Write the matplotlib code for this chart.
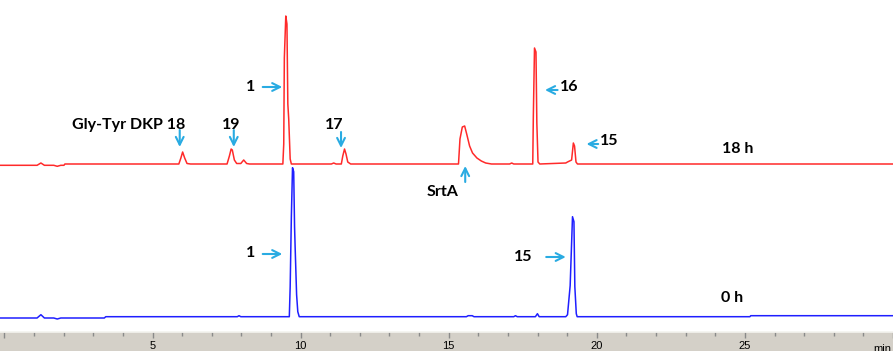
import matplotlib
matplotlib.use("Agg")
import matplotlib.pyplot as plt
import matplotlib.transforms as mtrans

# red trace (18 h), time in min / signal
red_t = [-0.3, 1.102, 1.231, 1.349, 1.665, 1.783, 1.902, 2.010, 2.040,
         5.888, 5.957, 6.016, 6.085, 6.164, 6.283,
         7.516, 7.595, 7.654, 7.693, 7.763, 7.841, 7.980, 8.078, 8.177, 8.276,
         9.400, 9.430, 9.450, 9.499, 9.538, 9.568, 9.598, 9.647, 9.687,
         11.039, 11.117, 11.196, 11.374, 11.423, 11.482, 11.532, 11.591, 11.690,
         15.330, 15.380, 15.459, 15.538, 15.607, 15.705, 15.804, 15.952, 16.100, 16.248, 16.445,
         17.057, 17.126, 17.195,
         17.837, 17.857, 17.896, 17.946, 17.975, 18.015, 18.074,
         18.952, 19.011, 19.149, 19.208, 19.248, 19.297, 19.347, 30.0]
red_y = [-1.3, -1.3, 1.0, -1.3, -1.3, -2.3, -1.3, -1.3, 0,
         0, 6, 12, 6, 0.5, 0,
         0, 8, 15, 14, 4, 0.5, 0.5, 4, 0.5, 0,
         0, 20, 106, 148, 140, 60, 45, 5, 0,
         0, 1, 0, 0, 8, 15, 10, 2, 0,
         0, 25, 37, 38, 30, 18, 11, 6, 3, 1, 0,
         0, 1, 0,
         0, 48, 116, 112, 41, 2, 0,
         1, 2, 4, 21, 18, 2, 0, 0]

# blue trace (0 h)
blue_t = [-0.3, 1.102, 1.231, 1.349, 1.665, 1.783, 1.902, 3.372, 3.421,
          7.861, 7.920, 7.980,
          9.618, 9.647, 9.687, 9.726, 9.766, 9.795, 9.815, 9.864, 9.904, 9.953,
          15.597, 15.656, 15.794, 15.853,
          17.195, 17.254, 17.314,
          17.926, 17.995, 18.054,
          18.952, 19.011, 19.100, 19.179, 19.228, 19.258, 19.307, 19.337,
          25.168, 25.198, 30.0]
blue_y = [-1.3, -1.3, 2.0, -1.3, -1.3, -2.3, -1.3, -1.3, 0,
          0, 1, 0,
          0, 30, 100, 149, 145, 90, 69, 22, 5, 0,
          0, 1, 1, 0,
          0, 1, 0,
          0, 3, 0,
          0, 2, 31, 100, 95, 30, 3, 0,
          0, 1, 1]

red_off = 168
blue_off = 15.3

ruler_ticks = [5, 10, 15, 20, 25]

fig = plt.figure(figsize=(8.93, 3.51), dpi=100)
ax = fig.add_axes([0, 19 / 351, 1, 332 / 351])
ax.plot(red_t, [v + red_off for v in red_y], color="#ff2a2a", lw=1.1)
ax.plot(blue_t, [v + blue_off for v in blue_y], color="#1f1fff", lw=1.1)
ax.set_xlim(-0.15, 29.52)
ax.set_ylim(0, 332)
ax.axis("off")

fnt = dict(family=["Lato", "DejaVu Sans"], weight="bold", size=11.5, color="black",
           ha="center", va="center")
arr = dict(arrowstyle="->", color="#29abe2", lw=1.5, mutation_scale=14,
           shrinkA=0, shrinkB=0)

def arrow(x0, y0, x1, y1):
  ax.annotate("", xy=(x1, y1), xytext=(x0, y0), arrowprops=arr)

# labels on 18 h trace
ax.text(4.201, 207, "Gly-Tyr DKP 18", **fnt)
arrow(5.918, 202, 5.918, 185)
ax.text(7.644, 207, "19", **fnt)
arrow(7.743, 202, 7.743, 185)
ax.text(8.325, 245, "1", **fnt)
arrow(8.720, 245, 9.381, 245)
ax.text(11.147, 207, "17", **fnt)
arrow(11.364, 200, 11.364, 184)
arrow(15.557, 150, 15.557, 166)
ax.text(14.788, 140.5, "SrtA", **fnt)
ax.text(19.070, 245, "16", **fnt)
arrow(18.676, 242, 18.251, 242)
ax.text(20.432, 191, "15", **fnt)
arrow(20.047, 188, 19.652, 188)
ax.text(24.764, 183, "18 h", **fnt)

# labels on 0 h trace
ax.text(8.325, 79, "1", **fnt)
arrow(8.720, 78, 9.381, 78)
ax.text(17.511, 75, "15", **fnt)
arrow(18.291, 75, 18.952, 75)
ax.text(24.566, 34, "0 h", **fnt)

# time ruler at the bottom
axr = fig.add_axes([0, 0, 1, 19 / 351], sharex=ax)
axr.set_facecolor("#d4d0c8")
axr.set_ylim(0, 1)
for s in ["left", "right", "bottom"]:
  axr.spines[s].set_visible(False)
axr.spines["top"].set_color("#f4f3ef")
axr.spines["top"].set_linewidth(1.2)
axr.set_yticks([])
axr.set_xticks(range(0, 31, 5))
axr.set_xticks(range(0, 31), minor=True)
axr.tick_params(axis="x", which="both", top=True, bottom=False, labelbottom=False,
                labeltop=False, direction="in", color="#8a8a8a", width=1)
axr.tick_params(axis="x", which="major", length=4)
axr.tick_params(axis="x", which="minor", length=3)
tr = mtrans.blended_transform_factory(axr.transData, axr.transAxes)
for t in ruler_ticks:
  axr.text(t, 0.27, str(t), transform=tr, ha="center", va="center",
           fontsize=8, family="Liberation Sans")
axr.text(29.35, 0.37, "min", transform=tr, ha="left", va="top",
         fontsize=8, family="Liberation Sans")

fig.savefig("out.png", dpi=100)
